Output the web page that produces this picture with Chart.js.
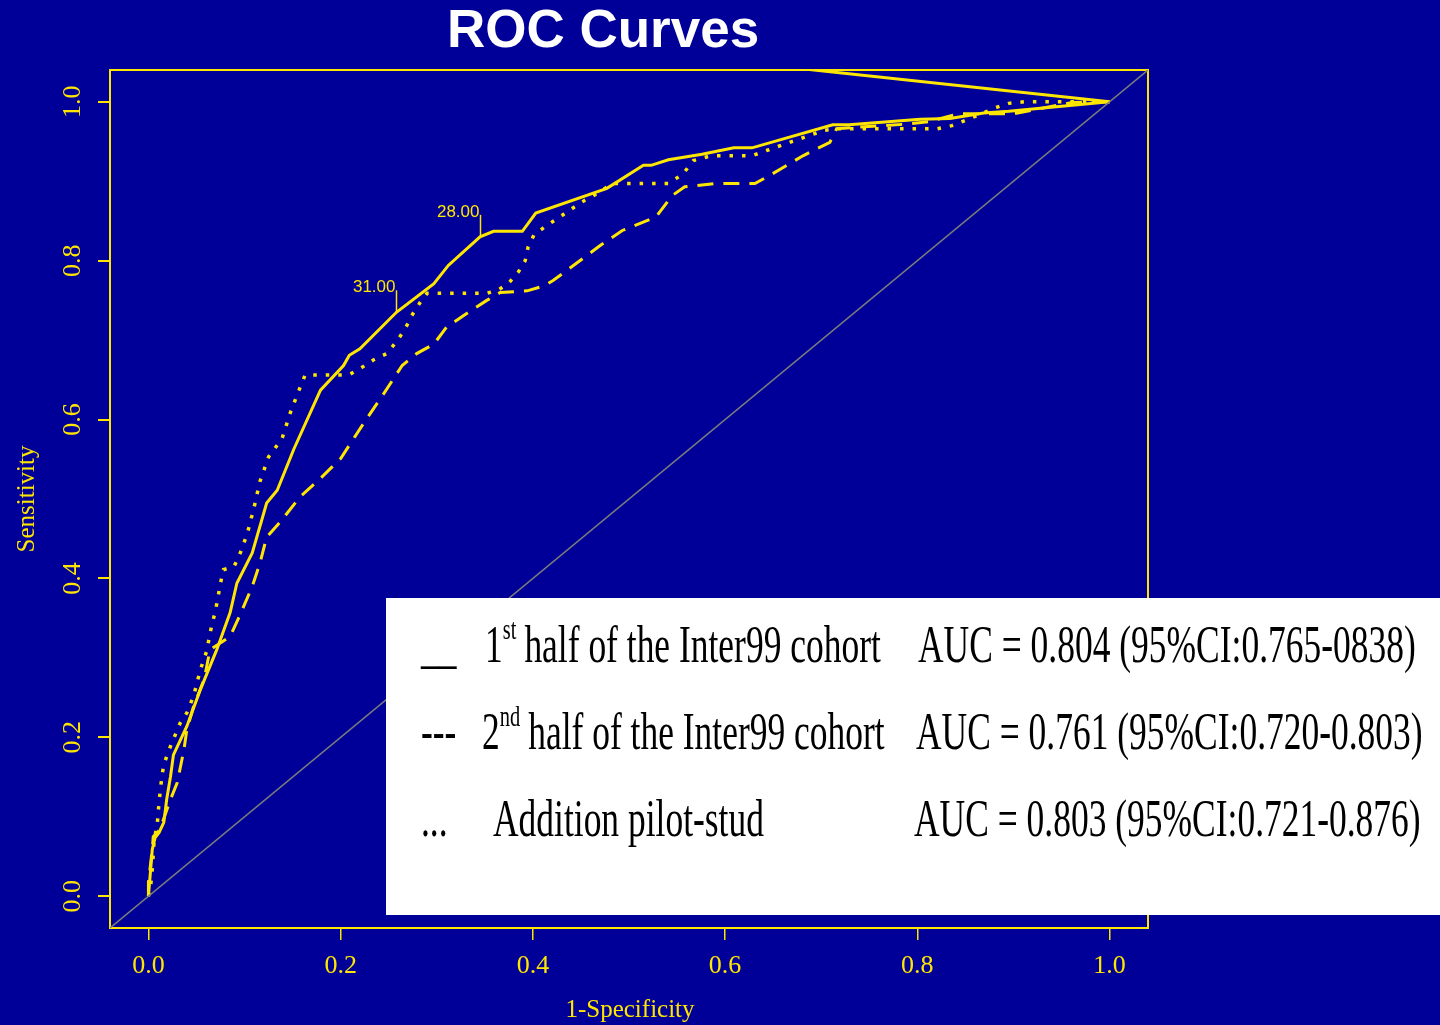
<!DOCTYPE html>
<html>
<head>
<meta charset="utf-8">
<title>ROC Curves</title>
<script src="https://cdn.jsdelivr.net/npm/chart.js@4.4.1/dist/chart.umd.min.js"></script>
<style>
    html, body { margin: 0; padding: 0; background: #000099; }
    canvas { display: block; }
</style>
</head>
<body>
<canvas id="rocChart" width="1440" height="1025"></canvas>
<script>
// 1st half of the Inter99 cohort (solid)
const firstHalfX = [0, 0.004, 0.007, 0.011, 0.016, 0.019, 0.023, 0.026, 0.040, 0.054,
    0.071, 0.085, 0.092, 0.108, 0.123, 0.134, 0.151, 0.179, 0.203, 0.209,
    0.220, 0.258, 0.297, 0.312, 0.345, 0.359, 0.389, 0.403, 0.477, 0.515,
    0.523, 0.541, 0.576, 0.609, 0.628, 0.712, 0.729, 0.803, 0.834, 0.869,
    0.895, 1.0];
const firstHalfY = [0, 0.059, 0.074, 0.080, 0.093, 0.122, 0.151, 0.178, 0.214, 0.260,
    0.310, 0.357, 0.394, 0.432, 0.495, 0.511, 0.562, 0.637, 0.668, 0.681,
    0.689, 0.735, 0.771, 0.794, 0.830, 0.837, 0.837, 0.860, 0.891, 0.920,
    0.920, 0.927, 0.934, 0.942, 0.942, 0.971, 0.971, 0.978, 0.979, 0.986,
    0.988, 1.0];

// 2nd half of the Inter99 cohort (dashed)
const secondHalfX = [0, 0.000, 0.004, 0.005, 0.012, 0.023, 0.030, 0.037, 0.040, 0.047,
    0.058, 0.064, 0.085, 0.096, 0.108, 0.116, 0.123, 0.137, 0.158, 0.179,
    0.200, 0.227, 0.245, 0.264, 0.279, 0.297, 0.310, 0.328, 0.352, 0.366,
    0.394, 0.411, 0.421, 0.470, 0.493, 0.528, 0.545, 0.558, 0.589, 0.631,
    0.646, 0.681, 0.709, 0.716, 0.738, 0.790, 0.812, 0.843, 0.900, 0.935,
    0.961, 1.0];
const secondHalfY = [0, 0.018, 0.059, 0.075, 0.084, 0.122, 0.143, 0.185, 0.210, 0.239,
    0.273, 0.310, 0.327, 0.356, 0.390, 0.419, 0.452, 0.471, 0.503, 0.526,
    0.551, 0.601, 0.633, 0.668, 0.683, 0.695, 0.716, 0.731, 0.750, 0.760,
    0.762, 0.768, 0.775, 0.819, 0.838, 0.855, 0.882, 0.893, 0.897, 0.897,
    0.907, 0.932, 0.949, 0.966, 0.968, 0.972, 0.975, 0.985, 0.985, 0.993,
    0.999, 1.0];

// Addition pilot-study (dotted)
const pilotX = [0, 0.002, 0.004, 0.006, 0.009, 0.011, 0.014, 0.016, 0.023, 0.033,
    0.040, 0.047, 0.054, 0.061, 0.064, 0.070, 0.075, 0.078, 0.089, 0.094,
    0.103, 0.110, 0.116, 0.125, 0.139, 0.148, 0.158, 0.163, 0.208, 0.220,
    0.234, 0.248, 0.258, 0.267, 0.274, 0.283, 0.290, 0.352, 0.364, 0.375,
    0.385, 0.392, 0.395, 0.401, 0.414, 0.428, 0.440, 0.454, 0.469, 0.482,
    0.541, 0.556, 0.567, 0.585, 0.628, 0.644, 0.672, 0.703, 0.716, 0.821,
    0.836, 0.851, 0.867, 0.880, 0.895, 0.911, 0.956, 1.0];
const pilotY = [0, 0.009, 0.034, 0.072, 0.088, 0.118, 0.151, 0.166, 0.189, 0.218,
    0.231, 0.252, 0.285, 0.310, 0.331, 0.361, 0.394, 0.411, 0.415, 0.427,
    0.457, 0.490, 0.522, 0.553, 0.576, 0.610, 0.641, 0.656, 0.656, 0.664,
    0.675, 0.683, 0.698, 0.714, 0.731, 0.748, 0.759, 0.759, 0.763, 0.772,
    0.786, 0.800, 0.817, 0.832, 0.844, 0.855, 0.865, 0.876, 0.886, 0.897,
    0.897, 0.909, 0.926, 0.932, 0.932, 0.939, 0.951, 0.964, 0.966, 0.966,
    0.970, 0.977, 0.985, 0.992, 0.998, 1.0, 1.0, 1.0];

// chance line and the stray line running into (1,1)
const diagonalX = [-0.04, 1.04];
const diagonalY = [-0.04, 1.04];
const strayX = [0.6, 1.0];
const strayY = [1.052, 1.0];

// cut-off labels
const cutoffX = [0.345, 0.258];
const cutoffY = [0.830, 0.735];
const cutoffLabels = ["28.00", "31.00"];

const xTicks = [0, 0.2, 0.4, 0.6, 0.8, 1.0];
const yTicks = [0, 0.2, 0.4, 0.6, 0.8, 1.0];
const tickLabels = ["0.0", "0.2", "0.4", "0.6", "0.8", "1.0"];

const legendSymbols = ["__", "---", "..."];
const legendNumbers = ["1", "2", ""];
const legendSups = ["st", "nd", ""];
const legendNames = ["half of the Inter99 cohort", "half of the Inter99 cohort", "Addition pilot-stud"];
const legendAuc = ["AUC = 0.804 (95%CI:0.765-0838)", "AUC = 0.761 (95%CI:0.720-0.803)", "AUC = 0.803 (95%CI:0.721-0.876)"];

const YELLOW = "#ffe600";
const SERIF = "'Liberation Serif', 'Times New Roman', serif";
const SANS = "'Liberation Sans', Arial, sans-serif";

function toPoints(xs, ys) {
    return xs.map((x, i) => ({ x: x, y: ys[i] }));
}

// draws text squeezed horizontally, returns drawn width
function squeezedText(ctx, text, x, y, squeeze) {
    ctx.save();
    ctx.translate(x, y);
    ctx.scale(squeeze, 1);
    ctx.fillText(text, 0, 0);
    const w = ctx.measureText(text).width * squeeze;
    ctx.restore();
    return w;
}

const rocDecor = {
    id: "rocDecor",
    beforeDatasetsDraw(chart) {
        const ctx = chart.ctx;
        const a = chart.chartArea;
        ctx.save();
        ctx.strokeStyle = YELLOW;
        ctx.lineWidth = 2;
        ctx.strokeRect(a.left, a.top, a.right - a.left, a.bottom - a.top);
        ctx.restore();
    },
    afterDatasetsDraw(chart) {
        const ctx = chart.ctx;
        const xs = chart.scales.x;
        const ys = chart.scales.y;
        ctx.save();
        ctx.strokeStyle = YELLOW;
        ctx.fillStyle = YELLOW;
        ctx.lineWidth = 1.5;
        ctx.font = "17px " + SANS;
        ctx.textAlign = "right";
        ctx.textBaseline = "alphabetic";
        cutoffLabels.forEach((lab, i) => {
            const px = Math.round(xs.getPixelForValue(cutoffX[i])) + 0.5;
            const py = ys.getPixelForValue(cutoffY[i]);
            ctx.beginPath();
            ctx.moveTo(px, py);
            ctx.lineTo(px, py - 22);
            ctx.stroke();
            ctx.fillText(lab, px - 1, py - 20);
        });
        ctx.restore();
    },
    afterDraw(chart) {
        const ctx = chart.ctx;
        const a = chart.chartArea;
        const ys = chart.scales.y;
        ctx.save();

        // y tick labels, rotated like base R
        ctx.fillStyle = YELLOW;
        ctx.font = "26px " + SERIF;
        ctx.textAlign = "center";
        ctx.textBaseline = "middle";
        yTicks.forEach((v, i) => {
            ctx.save();
            ctx.translate(73, ys.getPixelForValue(v));
            ctx.rotate(-Math.PI / 2);
            ctx.fillText(tickLabels[i], 0, 0);
            ctx.restore();
        });

        // axis titles
        ctx.font = "25px " + SERIF;
        ctx.save();
        ctx.translate(27, (a.top + a.bottom) / 2);
        ctx.rotate(-Math.PI / 2);
        ctx.fillText("Sensitivity", 0, 0);
        ctx.restore();
        ctx.fillText("1-Specificity", (a.left + a.right) / 2 + 1, 1010);

        // main title
        ctx.fillStyle = "#ffffff";
        ctx.font = "bold 53px " + SANS;
        ctx.textBaseline = "alphabetic";
        ctx.fillText("ROC Curves", 603, 47);

        // legend box
        ctx.fillStyle = "#ffffff";
        ctx.fillRect(386, 598, 1440 - 386, 317);
        ctx.fillStyle = "#000000";
        ctx.textAlign = "left";
        const squeeze = 0.682;
        const rowY = [662, 749, 836];
        const nameX = [485, 482, 493];
        const aucX = [918, 916, 914];
        legendNames.forEach((name, i) => {
            ctx.font = "52px " + SERIF;
            squeezedText(ctx, legendSymbols[i], 421, rowY[i], squeeze);
            let x = nameX[i];
            if (legendNumbers[i]) {
                x += squeezedText(ctx, legendNumbers[i], x, rowY[i], squeeze);
                ctx.font = "30px " + SERIF;
                x += squeezedText(ctx, legendSups[i], x, rowY[i] - 23, squeeze);
                ctx.font = "52px " + SERIF;
                x += 8;
            }
            squeezedText(ctx, name, x, rowY[i], squeeze);
            squeezedText(ctx, legendAuc[i], aucX[i], rowY[i], squeeze);
        });

        ctx.restore();
    }
};

const ctx = document.getElementById("rocChart").getContext("2d");

new Chart(ctx, {
    type: "scatter",
    data: {
        datasets: [
            {
                label: "diagonal",
                data: toPoints(diagonalX, diagonalY),
                showLine: true,
                borderColor: "#7c7c7c",
                borderWidth: 1.5,
                pointRadius: 0,
                clip: 0
            },
            {
                label: "1st half of the Inter99 cohort",
                data: toPoints(firstHalfX, firstHalfY),
                showLine: true,
                borderColor: YELLOW,
                borderWidth: 3,
                pointRadius: 0
            },
            {
                label: "2nd half of the Inter99 cohort",
                data: toPoints(secondHalfX, secondHalfY),
                showLine: true,
                borderColor: YELLOW,
                borderWidth: 3,
                borderDash: [16, 10],
                pointRadius: 0
            },
            {
                label: "Addition pilot-stud",
                data: toPoints(pilotX, pilotY),
                showLine: true,
                borderColor: YELLOW,
                borderWidth: 3.5,
                borderDash: [3.5, 9],
                pointRadius: 0
            },
            {
                label: "stray",
                data: toPoints(strayX, strayY),
                showLine: true,
                borderColor: YELLOW,
                borderWidth: 3,
                pointRadius: 0,
                clip: 0
            }
        ]
    },
    options: {
        responsive: false,
        animation: false,
        events: [],
        layout: { padding: { left: 0, top: 70, right: 292, bottom: 0 } },
        plugins: {
            legend: { display: false },
            tooltip: { enabled: false },
            title: { display: false }
        },
        scales: {
            x: {
                type: "linear",
                min: -0.04,
                max: 1.04,
                afterBuildTicks: s => { s.ticks = xTicks.map(v => ({ value: v })); },
                afterFit: s => { s.height = 97; },
                ticks: {
                    color: YELLOW,
                    font: { family: SERIF, size: 26 },
                    padding: 11,
                    maxRotation: 0,
                    autoSkip: false,
                    callback: (v, i) => tickLabels[i]
                },
                grid: { drawOnChartArea: false, drawTicks: true, tickLength: 12, color: YELLOW, lineWidth: 1.5 },
                border: { display: false }
            },
            y: {
                type: "linear",
                min: -0.04,
                max: 1.04,
                afterBuildTicks: s => { s.ticks = yTicks.map(v => ({ value: v })); },
                afterFit: s => { s.width = 110; },
                ticks: { color: "rgba(0,0,0,0)", font: { family: SERIF, size: 25 } },
                grid: { drawOnChartArea: false, drawTicks: true, tickLength: 12, color: YELLOW, lineWidth: 2 },
                border: { display: false }
            }
        }
    },
    plugins: [rocDecor]
});
</script>
</body>
</html>
